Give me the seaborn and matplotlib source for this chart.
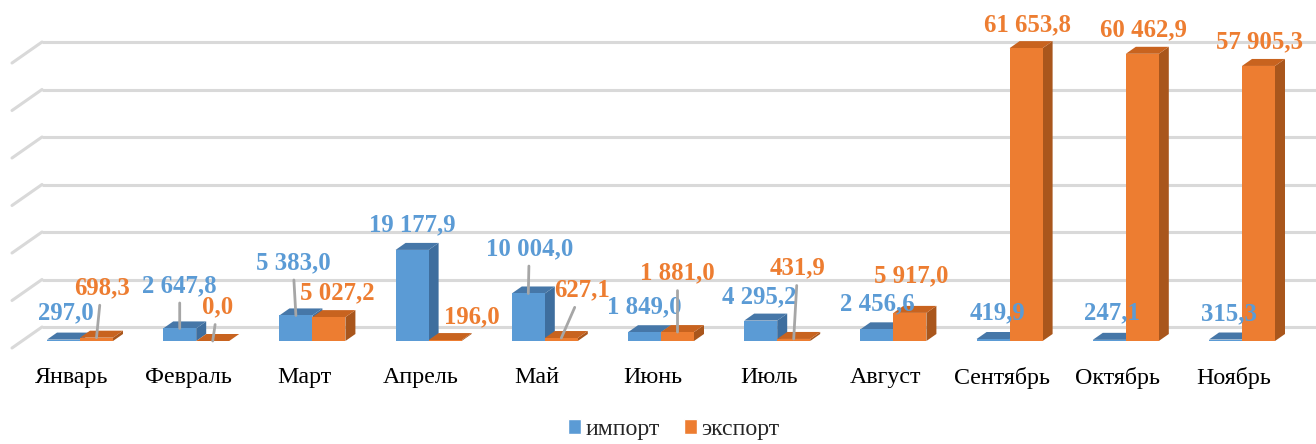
import numpy as np
import pandas as pd
import matplotlib
matplotlib.use("Agg")
import matplotlib.pyplot as plt
from matplotlib.patches import Polygon, Patch
from matplotlib.transforms import ScaledTranslation
import seaborn as sns

# ---- data ----
months = ["Январь", "Февраль", "Март", "Апрель", "Май", "Июнь",
          "Июль", "Август", "Сентябрь", "Октябрь", "Ноябрь"]
imports = [297.0, 2647.8, 5383.0, 19177.9, 10004.0, 1849.0,
           4295.2, 2456.6, 419.9, 247.1, 315.3]
exports = [698.3, 0.0, 5027.2, 196.0, 627.1, 1881.0,
           431.9, 5917.0, 61653.8, 60462.9, 57905.3]
series = ["импорт", "экспорт"]

# label placement (pixel offsets from bar top, leader line flag)
imp_off = [(2, 27), (0, 43), (-3, 53), (0, 25), (1, 45), (0, 25),
           (-1, 24), (0, 26), (4, 26), (3, 27), (3, 26)]
imp_lead = [0, 1, 1, 0, 1, 0, 0, 0, 0, 0, 0]
exp_off = [(5, 50), (5, 34), (8, 24), (27, 23), (21, 48), (0, 59),
           (4, 71), (1, 37), (1, 23), (1, 24), (1, 24)]
exp_lead = [1, 1, 0, 0, 1, 1, 1, 0, 0, 0, 0]

df = pd.DataFrame({
    "month": months * 2,
    "value": imports + exports,
    "type": [series[0]] * len(months) + [series[1]] * len(months),
})

blue, orange = "#5B9BD5", "#ED7D31"
blue_side, blue_top = "#3E6E9E", "#4677A8"
orange_side, orange_top = "#A9561C", "#C8631F"

sns.set_theme(style="white")
plt.rcParams["font.family"] = ["Liberation Serif", "DejaVu Serif"]

W, H = 1316, 444
fig = plt.figure(figsize=(W / 100, H / 100), dpi=100)
ax_l, ax_base = 12, 341
ax = fig.add_axes([ax_l / W, (H - ax_base) / H, (W - ax_l) / W, ax_base / H])

px_per_cat = 116.2
x0_px = 80
px_per_10k = 47.5
ymax = ax_base / px_per_10k * 10000
xmin = (ax_l - x0_px) / px_per_cat
xmax = (W - x0_px) / px_per_cat

sns.barplot(data=df, x="month", y="value", hue="type", palette=[blue, orange],
            width=0.568, gap=0, saturation=1, legend=False, ax=ax)
ax.set_xlim(xmin, xmax)
ax.set_ylim(0, ymax)

ypx = 10000 / px_per_10k  # data units per pixel
# back wall gridlines + side wall diagonals
back = 14 * ypx
grid_start = (42 - x0_px) / px_per_cat
for k in range(7):
    yv = k * 10000 + back
    ax.plot([grid_start, xmax], [yv, yv], color="#D9D9D9", lw=2.2, zorder=0,
            solid_capstyle="butt", clip_on=False)
    ax.plot([xmin, grid_start], [yv - 21 * ypx, yv], color="#D9D9D9", lw=2.2,
            zorder=0, clip_on=False)

# pseudo 3D faces
ddx = 10 / px_per_cat
ddy = 7 * ypx
for cont, (sc, tc, zz) in zip(ax.containers, [(blue_side, blue_top, 1), (orange_side, orange_top, 2)]):
    for p in cont.patches:
        x, w, h = p.get_x(), p.get_width(), p.get_height()
        p.set_zorder(3)
        p.set_edgecolor("none")
        side = Polygon([(x + w, 0), (x + w + ddx, ddy), (x + w + ddx, h + ddy), (x + w, h)],
                       closed=True, facecolor=sc, edgecolor="none", zorder=zz)
        top = Polygon([(x, h), (x + w, h), (x + w + ddx, h + ddy), (x + ddx, h + ddy)],
                      closed=True, facecolor=tc, edgecolor="none", zorder=zz)
        ax.add_patch(side)
        ax.add_patch(top)


def fmt(v):
    return f"{v:,.1f}".replace(",", " ").replace(".", ",")


for cont, vals, offs, leads, col in [
        (ax.containers[0], imports, imp_off, imp_lead, blue),
        (ax.containers[1], exports, exp_off, exp_lead, orange)]:
    for p, v, (dx, dy), ld in zip(cont.patches, vals, offs, leads):
        xc = p.get_x() + p.get_width() / 2
        kw = {}
        if ld:
            kw["arrowprops"] = dict(arrowstyle="-", color="#A6A6A6", lw=2.0,
                                    shrinkA=2, shrinkB=0)
        ax.annotate(fmt(v), xy=(xc, v), xytext=(dx, dy), textcoords="offset pixels",
                    ha="center", va="center", fontsize=17.8, fontweight="bold",
                    color=col, zorder=5, annotation_clip=False, **kw)

ax.set_xlabel("")
ax.set_ylabel("")
ax.set_yticks([])
ax.tick_params(axis="x", length=0, pad=19, labelsize=17.3, labelcolor="black")
shift = ScaledTranslation(-8 / 100, 0, fig.dpi_scale_trans)
for lbl in ax.get_xticklabels():
    lbl.set_transform(lbl.get_transform() + shift)
for s in ax.spines.values():
    s.set_visible(False)

handles = [Patch(facecolor=blue, label=series[0]), Patch(facecolor=orange, label=series[1])]
fig.legend(handles=handles, loc="center", bbox_to_anchor=(0.512, 0.033), ncol=2,
           frameon=False, fontsize=17.2, handlelength=0.55, handleheight=0.55,
           handletextpad=0.2, columnspacing=1.0, borderpad=0.1)

fig.savefig("out.png", dpi=100, facecolor="white")
